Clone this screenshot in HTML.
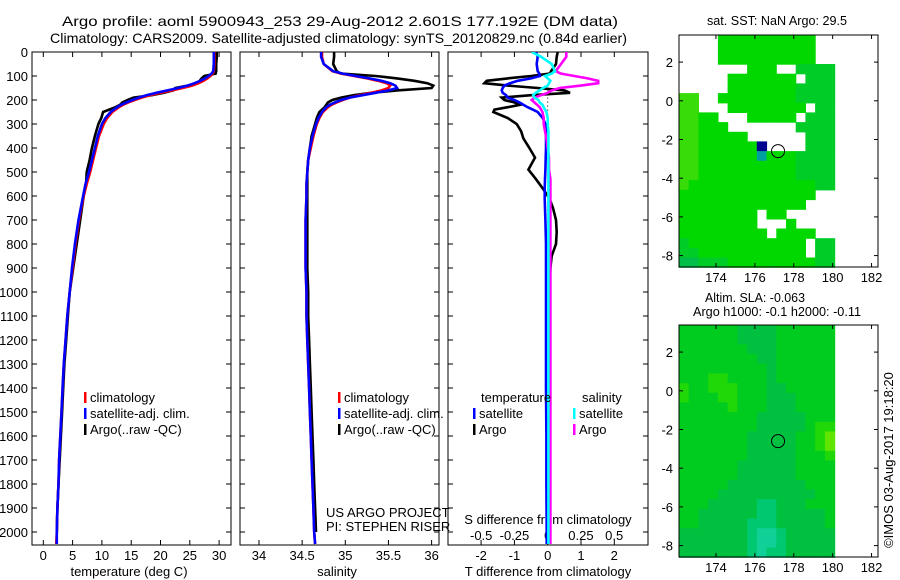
<!DOCTYPE html>
<html><head><meta charset="utf-8"><style>
html,body{margin:0;padding:0;background:#fff;}
svg{display:block;font-family:"Liberation Sans",sans-serif;}
text{font-size:13px;fill:#000;}
</style></head><body>
<svg id="fig" width="900" height="580" viewBox="0 0 900 580">
<text x="62" y="26" textLength="556" lengthAdjust="spacingAndGlyphs" style="font-size:14px">Argo profile: aoml 5900943_253 29-Aug-2012 2.601S 177.192E (DM data)</text>
<text x="50" y="43" textLength="577" lengthAdjust="spacingAndGlyphs" style="font-size:14px">Climatology: CARS2009. Satellite-adjusted climatology: synTS_20120829.nc (0.84d earlier)</text>
<text x="707" y="25" textLength="140" lengthAdjust="spacingAndGlyphs">sat. SST: NaN Argo: 29.5</text>
<text x="705" y="302" textLength="100" lengthAdjust="spacingAndGlyphs">Altim. SLA: -0.063</text>
<text x="693" y="316" textLength="168" lengthAdjust="spacingAndGlyphs">Argo h1000: -0.1 h2000: -0.11</text>
<text transform="translate(893,460) rotate(-90)" text-anchor="middle">©IMOS 03-Aug-2017 19:18:20</text>
<g id="g1"></g><g id="g2"></g><g id="g3"></g><g id="m1"></g><g id="m2"></g>
<defs>
<clipPath id="c1"><rect x="32" y="52" width="199" height="493"/></clipPath>
<clipPath id="c2"><rect x="240" y="52" width="199" height="493"/></clipPath>
<clipPath id="c3"><rect x="448" y="52" width="200" height="493"/></clipPath>
</defs>
</svg>
<script>
// ---- profile data ----
const depths=[0,20,50,80,90,100,110,120,130,140,150,160,170,180,190,200,210,220,230,250,275,300,350,400,450,500,550,600,700,800,900,1000,1100,1200,1300,1400,1500,1600,1700,1800,1900,2000,2050];
const tempClim=[29.2,29.2,29.2,29.1,28.9,28.5,28.0,27.3,26.5,25.4,23.8,22.0,20.0,18.2,16.8,15.6,14.5,13.6,12.9,11.8,10.9,10.3,9.5,9.0,8.5,8.0,7.4,6.9,6.1,5.5,5.0,4.5,4.1,3.8,3.5,3.3,3.1,2.9,2.7,2.6,2.4,2.3,2.2];
const tempSat=[29.1,29.1,29.1,29.0,28.7,28.2,27.6,26.8,25.8,24.6,23.0,21.2,19.3,17.6,16.3,15.2,14.2,13.3,12.6,11.5,10.6,10.0,9.3,8.8,8.3,7.8,7.2,6.8,6.0,5.4,4.9,4.5,4.1,3.8,3.5,3.3,3.1,2.9,2.7,2.6,2.4,2.3,2.3];
const tempArgo=[29.6,29.6,29.5,29.5,29.4,27.5,27.0,26.7,26.2,24.6,22.5,22.2,20.5,18.5,15.4,14.4,13.5,13.1,12.3,10.2,9.9,9.4,8.8,8.3,7.9,7.4,7.3,6.9,6.3,5.7,5.1,4.5,4.2,3.9,3.6,3.4,3.2,3.0,2.8,2.6,2.4,2.3,2.3];
const salClim=[34.73,34.73,34.75,34.85,34.95,35.1,35.25,35.38,35.48,35.52,35.5,35.42,35.3,35.17,35.05,34.97,34.9,34.84,34.8,34.74,34.7,34.67,34.63,34.6,34.57,34.56,34.55,34.55,34.54,34.54,34.54,34.55,34.55,34.56,34.57,34.58,34.59,34.6,34.61,34.62,34.63,34.64,34.65];
const salSat=[34.72,34.72,34.75,34.86,34.97,35.12,35.28,35.42,35.52,35.58,35.6,35.5,35.35,35.2,35.05,34.95,34.88,34.82,34.78,34.73,34.69,34.66,34.62,34.59,34.57,34.56,34.55,34.55,34.54,34.54,34.54,34.55,34.55,34.56,34.57,34.58,34.59,34.6,34.61,34.62,34.63,34.64,34.65];
const salArgo=[34.87,34.87,34.86,34.9,34.95,35.35,35.6,35.8,35.95,36.02,36.0,35.6,35.3,35.1,34.95,34.85,34.8,34.78,34.76,34.7,34.67,34.65,34.61,34.59,34.57,34.56,34.56,34.56,34.56,34.56,34.56,34.57,34.57,34.58,34.59,34.6,34.61,34.62,34.63,34.64,34.65,34.66,34.67];
const diffDepths=[0,20,50,80,90,100,110,120,130,140,150,160,170,180,190,200,210,220,230,240,250,275,300,330,360,400,440,490,530,570,610,650,700,750,800,850,900,950,1000,1200,1400,1600,1800,2000,2050];
const tDiffSat=[-0.35,-0.3,-0.33,-0.3,-0.25,-0.23,-0.5,-0.9,-1.13,-1.3,-1.35,-1.38,-1.35,-1.25,-1.2,-1.0,-0.85,-0.73,-0.6,-0.45,-0.3,-0.15,-0.07,-0.05,-0.05,-0.05,-0.06,-0.07,-0.08,-0.09,-0.09,-0.08,-0.07,-0.06,-0.05,-0.05,-0.05,-0.05,-0.05,-0.05,-0.05,-0.04,-0.04,-0.03,-0.03];
const tDiffArgo=[0.3,0.27,0.25,0.1,0.07,-0.5,-1.2,-1.83,-1.9,-1.2,-0.3,0.5,0.67,-0.5,-1.38,-1.3,-1.0,-0.83,-1.2,-1.6,-1.63,-1.2,-0.93,-0.8,-0.73,-0.55,-0.38,-0.58,-0.35,-0.14,0.05,0.16,0.25,0.27,0.25,0.12,0.08,0.07,0.06,0.05,0.06,0.05,0.05,0.05,0.05];
const sDiffSat=[-0.12,-0.05,0.03,0.055,0.03,-0.02,0.0,0.02,0.01,0.0,-0.035,-0.06,-0.09,-0.11,-0.1,-0.07,-0.06,-0.04,-0.03,-0.02,-0.01,0,0,0.005,0.005,0.005,0.005,0.005,0.005,0.005,0.005,0.005,0.005,0.005,0.005,0.005,0.005,0.005,0.005,0.005,0.005,0.005,0.005,0.005,0.005];
const sDiffArgo=[0.14,0.14,0.1,0.06,0.1,0.2,0.3,0.38,0.38,0.25,0.09,0.03,0.0,-0.05,-0.1,-0.12,-0.1,-0.08,-0.06,-0.05,-0.04,-0.03,-0.03,-0.02,-0.01,0,0.01,0.01,0.02,0.02,0.02,0.02,0.02,0.02,0.02,0.02,0.02,0.02,0.02,0.02,0.02,0.02,0.02,0.02,0.02];
const depthTicks=[0,100,200,300,400,500,600,700,800,900,1000,1100,1200,1300,1400,1500,1600,1700,1800,1900,2000];
const tempTicks=[0,5,10,15,20,25,30];
const salTicks=[34,34.5,35,35.5,36];
const tDiffTicks=[-2,-1,0,1,2];
const sDiffTicks=[-0.5,-0.25,0,0.25,0.5];
const lonTicks=[174,176,178,180,182];
const latTicks=[2,0,-2,-4,-6,-8];
const argoLon=177.192, argoLat=-2.601;
// ---- map grids (0.5 deg cells from 172.1E, 3.4N) ----
const sstRows=["....cccccccccc..","....cccccccccc..","....cccccccccc..",".......ccc..dddd",".....ccccccc.ddd",".....cccccccdddd","bb..ccccccccdddd","bb...cccccccc.dd","bbcc...ccccc.ddd","bbccc.......dddd","bbccccc......ddd","bbccccccN....ddd","bbccccccTcccdddd","bbccccccccccdddd","bbccccccccccdddd","bcccccccccccccdd","cccccccccccccc..","ccccccccccccc...","cccccccc.cc.....","cccccccc...c....","ccccccccc.cccc..","dcccccccccccc.dd","ddccccccccccc.dd","eedddcccccccccdd"];
const slaRows=["hhhhhhgggghhhhhh","hhhhhhgggghhhhhh","hhhhhhhggghhhhhh","hhhhhhhhgghhhhhh","hhhhhhhhhghhhhhh","hhhiihhhhghhhhhh","ihhiiihhhgghhhhh","ihhhiihhhggghhhh","hhhhhihhhggghhhh","hhhhhhhhggggghhh","hhhhhhhhggggghii","hhhhhhhggggghhij","hhhhhhhggggghhij","hhhhhhhggggghhhi","hhhhhhgggggghhhh","hhhhhhgggggghhhh","hhhhhgggggggghhh","hhhhgggggggggghh","hhhgggggttggghhh","hhggggggttgggggh","hhgggggtttgggggh","gggggggtuutggggg","gggggggtuutggggg","gggggggtuttggggg"];
const colorKey={a:"#44e010",b:"#38dc08",c:"#00d800",d:"#00cc28",e:"#00be48",N:"#000090",T:"#00a0a0",g:"#00c040",h:"#00cc20",i:"#20d808",j:"#60e400",t:"#00c870",u:"#10d098"};

const NS="http://www.w3.org/2000/svg";
function mk(tag,attrs,parent){const e=document.createElementNS(NS,tag);for(const k in attrs)e.setAttribute(k,attrs[k]);parent.appendChild(e);return e;}
function txt(s,x,y,anchor,parent){const t=mk("text",{x:x,y:y,"text-anchor":anchor},parent);t.textContent=s;return t;}

const Y0=52, PXM=0.24, YT=52, YB=545;
const yD=d=>Y0+d*PXM;
const xT=v=>43.3+v*5.86;
const xS=v=>259+(v-34)*86.3;
const xTd=v=>547.7+v*33.3;
const xSd=v=>547.7+v*133;

function frame(g,x0,x1,name){
  const r=mk("rect",{x:x0,y:YT,width:x1-x0,height:YB-YT,fill:"none",stroke:"#000","stroke-width":1},g);
  
  
  depthTicks.forEach(d=>{mk("line",{x1:x0,x2:x0+5,y1:yD(d),y2:yD(d),stroke:"#000"},g);mk("line",{x1:x1-5,x2:x1,y1:yD(d),y2:yD(d),stroke:"#000"},g);});
}
function series(g,xs,ds,xf,color,clip,name){
  const pts=xs.map((v,i)=>xf(v).toFixed(1)+","+yD(ds[i]).toFixed(1)).join(" ");
  const p=mk("polyline",{points:pts,fill:"none",stroke:color,"stroke-width":2.6,"clip-path":"url(#"+clip+")"},g);
  
  
}
function legend(g,x,y,entries,name){
  entries.forEach((e,i)=>{
    const r=mk("rect",{x:x,y:y+i*16-10,width:2.5,height:11,fill:e[1]},g);
    
    
    const t=txt(e[0],x+6,y+i*16,"start",g);
    
    
  });
}

// Panel 1
const g1=document.getElementById("g1");
frame(g1,32,231,"temperature-panel-frame");
depthTicks.forEach(d=>{const t=txt(String(d),28,yD(d)+5,"end",g1);});
tempTicks.forEach(v=>{mk("line",{x1:xT(v),x2:xT(v),y1:YB,y2:YB-5,stroke:"#000"},g1);mk("line",{x1:xT(v),x2:xT(v),y1:YT,y2:YT+5,stroke:"#000"},g1);const t=txt(String(v),xT(v),560,"middle",g1);});
{const t=txt("temperature (deg C)",129,576,"middle",g1);}
series(g1,tempArgo.slice(0,42),depths.slice(0,42),xT,"#000","c1","temperature-argo-line");
series(g1,tempClim,depths,xT,"#f00","c1","temperature-climatology-line");
series(g1,tempSat,depths,xT,"#00f","c1","temperature-satellite-line");
legend(g1,84,402,[["climatology","#f00"],["satellite-adj. clim.","#00f"],["Argo(..raw -QC)","#000"]],"temperature-legend");

// Panel 2
const g2=document.getElementById("g2");
frame(g2,240,439,"salinity-panel-frame");
salTicks.forEach(v=>{mk("line",{x1:xS(v),x2:xS(v),y1:YB,y2:YB-5,stroke:"#000"},g2);mk("line",{x1:xS(v),x2:xS(v),y1:YT,y2:YT+5,stroke:"#000"},g2);const t=txt(String(v),xS(v),560,"middle",g2);});
{const t=txt("salinity",337,576,"middle",g2);}
series(g2,salArgo.slice(0,42),depths.slice(0,42),xS,"#000","c2","salinity-argo-line");
series(g2,salClim,depths,xS,"#f00","c2","salinity-climatology-line");
series(g2,salSat,depths,xS,"#00f","c2","salinity-satellite-line");
legend(g2,338,402,[["climatology","#f00"],["satellite-adj. clim.","#00f"],["Argo(..raw -QC)","#000"]],"salinity-legend");
{const t=txt("US ARGO PROJECT",326,517,"start",g2);}
{const t=txt("PI: STEPHEN RISER",326,531,"start",g2);}

// Panel 3
const g3=document.getElementById("g3");
frame(g3,448,648,"difference-panel-frame");
tDiffTicks.forEach(v=>{mk("line",{x1:xTd(v),x2:xTd(v),y1:YB,y2:YB-5,stroke:"#000"},g3);mk("line",{x1:xTd(v),x2:xTd(v),y1:YT,y2:YT+5,stroke:"#000"},g3);const t=txt(String(v),xTd(v),560,"middle",g3);});
sDiffTicks.forEach(v=>{const t=txt(String(v),xSd(v),540,"middle",g3);});
{const t=txt("S difference from climatology",548,524,"middle",g3);}
{const t=txt("T difference from climatology",548,576,"middle",g3);}
mk("line",{x1:xTd(0),x2:xTd(0),y1:yD(140),y2:yD(1000),stroke:"#000","stroke-dasharray":"1,3"},g3);
series(g3,tDiffArgo.slice(0,44),diffDepths.slice(0,44),xTd,"#000","c3","t-diff-argo-line");
series(g3,tDiffSat,diffDepths,xTd,"#00f","c3","t-diff-satellite-line");
series(g3,sDiffArgo,diffDepths,xSd,"#f0f","c3","s-diff-argo-line");
series(g3,sDiffSat,diffDepths,xSd,"#0ff","c3","s-diff-satellite-line");
{const t=txt("temperature",481,402,"start",g3);}
{const t=txt("salinity",582,402,"start",g3);}
legend(g3,473,418,[["satellite","#00f"],["Argo","#000"]],"t-diff-legend");
legend(g3,573,418,[["satellite","#0ff"],["Argo","#f0f"]],"s-diff-legend");

// Maps
function drawMap(gid,top,rows,name){
  const g=document.getElementById(gid);
  const L=679,R=878,B=top+232;
  const xL=lon=>L+(lon-172.1)*19.45;
  const yL=lat=>top+(3.4-lat)*19.35;
  rows.forEach((row,ri)=>{
    for(let ci=0;ci<row.length;ci++){
      const ch=row[ci]; if(ch===".")continue;
      const lon0=172.1+ci*0.5, lat0=3.4-ri*0.5;
      const r=mk("rect",{x:xL(lon0).toFixed(1),y:yL(lat0).toFixed(1),width:(0.5*19.45+0.6).toFixed(1),height:(0.5*19.35+0.6).toFixed(1),fill:colorKey[ch]},g);
      
      
    }
  });
  const fr=mk("rect",{x:L,y:top,width:R-L,height:B-top,fill:"none",stroke:"#000"},g);
  
  
  lonTicks.forEach(v=>{const x=xL(v);mk("line",{x1:x,x2:x,y1:B,y2:B-4,stroke:"#000"},g);mk("line",{x1:x,x2:x,y1:top,y2:top+4,stroke:"#000"},g);const t=txt(String(v),x,B+15,"middle",g);});
  latTicks.forEach(v=>{const y=yL(v);mk("line",{x1:L,x2:L+4,y1:y,y2:y,stroke:"#000"},g);mk("line",{x1:R-4,x2:R,y1:y,y2:y,stroke:"#000"},g);const t=txt(String(v),673,y+5,"end",g);});
  const c=mk("circle",{cx:xL(argoLon),cy:yL(argoLat),r:6.5,fill:"none",stroke:"#000","stroke-width":1},g);
  
  
}
drawMap("m1",35,sstRows,"sst-map");
drawMap("m2",325,slaRows,"sla-map");
</script>
</body></html>
